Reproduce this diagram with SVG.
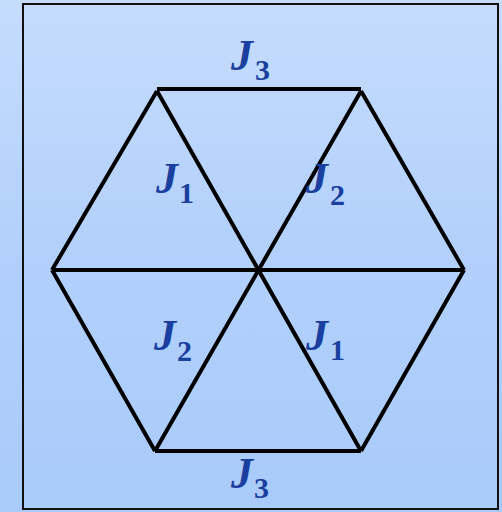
<svg xmlns="http://www.w3.org/2000/svg" width="502" height="512" viewBox="0 0 502 512">
  <defs>
    <linearGradient id="bg" x1="0" y1="0" x2="0" y2="1">
      <stop offset="0" stop-color="#c6dcfd"/>
      <stop offset="0.5" stop-color="#b2d0fb"/>
      <stop offset="1" stop-color="#a9cbfa"/>
    </linearGradient>
    <style>
      .edge { stroke: #000; stroke-width: 4; fill: none; stroke-linecap: butt; }
      .lbl { font-family: "Liberation Serif", "Times New Roman", serif; font-weight: bold; font-style: italic; fill: #1a3f9f; }
      .main { font-size: 44px; }
      .sub { font-size: 30px; font-style: normal; }
    </style>
  </defs>
  <rect x="0" y="0" width="502" height="512" fill="url(#bg)"/>
  <rect id="frame" x="23" y="4" width="475" height="505" fill="none" stroke="#111" stroke-width="2"/>
  <g id="connectors">
    <line class="edge" x1="157" y1="89" x2="361" y2="89"/>
    <line class="edge" x1="155" y1="451" x2="361" y2="451"/>
    <line class="edge" x1="52" y1="270" x2="464" y2="270"/>
    <line class="edge" x1="157" y1="91" x2="361" y2="451"/>
    <line class="edge" x1="361" y1="91" x2="155" y2="451"/>
    <line class="edge" x1="157" y1="91" x2="52" y2="270"/>
    <line class="edge" x1="52" y1="270" x2="155" y2="451"/>
    <line class="edge" x1="361" y1="91" x2="464" y2="270"/>
    <line class="edge" x1="464" y1="270" x2="361" y2="451"/>
  </g>
  <g id="label-J3-top" class="lbl">
    <text class="main" x="231" y="70">J</text><text class="sub" x="255" y="80">3</text>
  </g>
  <g id="label-J1-upper" class="lbl">
    <text class="main" x="156" y="193">J</text><text class="sub" x="179" y="203">1</text>
  </g>
  <g id="label-J2-upper" class="lbl">
    <text class="main" x="306" y="193">J</text><text class="sub" x="330" y="205">2</text>
  </g>
  <g id="label-J2-lower" class="lbl">
    <text class="main" x="154" y="350">J</text><text class="sub" x="177" y="361">2</text>
  </g>
  <g id="label-J1-lower" class="lbl">
    <text class="main" x="306" y="350">J</text><text class="sub" x="330" y="360">1</text>
  </g>
  <g id="label-J3-bottom" class="lbl">
    <text class="main" x="231" y="488">J</text><text class="sub" x="254" y="498">3</text>
  </g>
</svg>
